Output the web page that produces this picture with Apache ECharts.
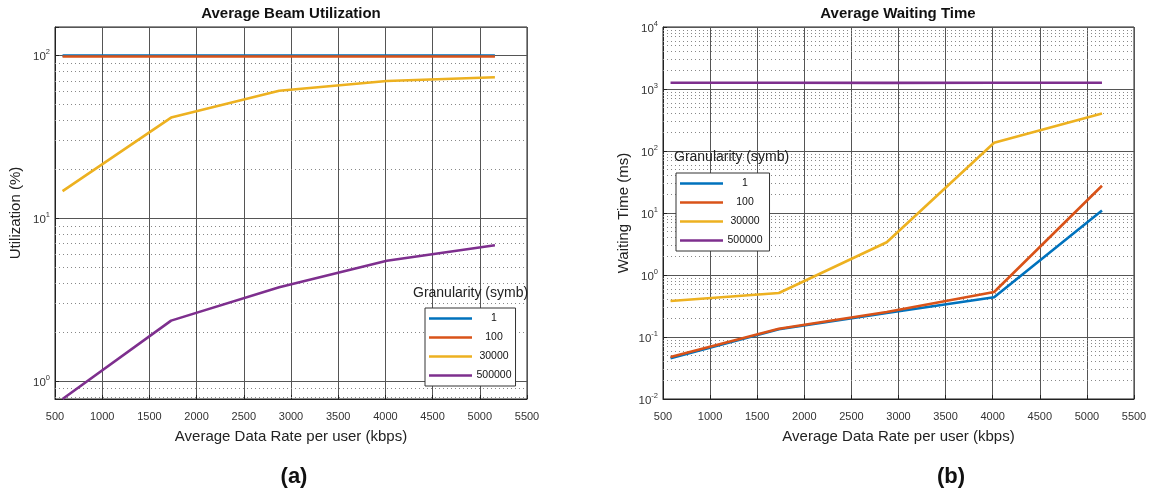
<!DOCTYPE html>
<html>
<head>
<meta charset="utf-8">
<title>Average Beam Utilization / Average Waiting Time</title>
<script src="https://cdn.jsdelivr.net/npm/echarts@6/dist/echarts.min.js"></script>
<style>
  html, body { margin: 0; padding: 0; background: #fff; }
  #chart { width: 1150px; height: 493px; }
</style>
</head>
<body>
<div id="chart"></div>
<script>
// Average data rate per user (kbps), shared by both panels
const dataRates = [580, 1730, 2875, 4015, 5160];

// Granularity settings (symbols), one line per setting
const granularities = ['1', '100', '30000', '500000'];
const lineColors = ['#0072BD', '#D95319', '#EDB120', '#7E2F8E'];

// (a) Average beam utilization (%)
const utilGran1      = [100, 100, 100, 100, 100];
const utilGran100    = [98.8, 98.8, 98.8, 98.8, 98.8];
const utilGran30000  = [14.7, 41.6, 60.9, 69.8, 73.6];
const utilGran500000 = [0.775, 2.35, 3.77, 5.49, 6.83];

// (b) Average waiting time (ms)
const waitGran1      = [0.0453, 0.133, 0.244, 0.437, 11.0];
const waitGran100    = [0.0476, 0.136, 0.253, 0.532, 27.5];
const waitGran30000  = [0.381, 0.513, 3.37, 136, 404];
const waitGran500000 = [1260, 1260, 1255, 1260, 1260];

// Axis ticks
const xTicks = [500, 1000, 1500, 2000, 2500, 3000, 3500, 4000, 4500, 5000, 5500];
const utilRange = [0.775, 150];
const utilDecades = [0, 1, 2];
const waitDecades = [-2, -1, 0, 1, 2, 3, 4];

const FONT = 'Liberation Sans';
const utilSeries = [utilGran1, utilGran100, utilGran30000, utilGran500000];
const waitSeries = [waitGran1, waitGran100, waitGran30000, waitGran500000];

// Dotted minor grid lines at 2..9 x 10^k inside an axis range
function minorLines(lo, hi) {
  const out = [];
  for (let e = Math.floor(Math.log10(lo)); e <= Math.ceil(Math.log10(hi)); e++) {
    for (let m = 2; m <= 9; m++) {
      const v = m * Math.pow(10, e);
      if (v > lo && v < hi) out.push({ yAxis: v });
    }
  }
  return out;
}

function decadeLabel(decades) {
  return function (v) {
    const lg = Math.log10(v);
    const e = Math.round(lg);
    if (Math.abs(lg - e) > 1e-6 || decades.indexOf(e) < 0) return '';
    return '{b|10}{s|' + e + '}';
  };
}

const powerRich = {
  b: { fontSize: 11.5, fontFamily: FONT, color: '#333', lineHeight: 15, verticalAlign: 'bottom' },
  s: { fontSize: 7.5, fontFamily: FONT, color: '#333', lineHeight: 15, verticalAlign: 'top' }
};

function xAxisFor(gridIndex) {
  return {
    type: 'value', gridIndex: gridIndex,
    min: xTicks[0], max: xTicks[xTicks.length - 1], interval: xTicks[1] - xTicks[0],
    name: 'Average Data Rate per user (kbps)',
    nameLocation: 'middle', nameGap: 30,
    nameTextStyle: { fontSize: 15, color: '#222', fontFamily: FONT },
    axisLine: { show: true, lineStyle: { color: '#222', width: 1 } },
    axisTick: { show: true, inside: true, length: 4, lineStyle: { color: '#222' } },
    axisLabel: {
      margin: 12, fontSize: 11, color: '#333', fontFamily: FONT,
      formatter: function (v) { return xTicks.indexOf(v) >= 0 ? String(v) : ''; }
    },
    splitLine: { show: true, lineStyle: { color: '#555', width: 1, type: 'solid' } }
  };
}

function yAxisFor(gridIndex, lo, hi, decades, name) {
  return {
    type: 'log', logBase: 10, gridIndex: gridIndex, min: lo, max: hi,
    name: name, nameLocation: 'middle', nameGap: 32,
    nameTextStyle: { fontSize: 15, color: '#222', fontFamily: FONT },
    axisLine: { show: true, lineStyle: { color: '#222', width: 1 } },
    axisTick: { show: true, inside: true, length: 4, lineStyle: { color: '#222' } },
    axisLabel: { margin: 5, formatter: decadeLabel(decades), rich: powerRich },
    splitLine: { show: true, lineStyle: { color: '#555', width: 1, type: 'solid' } },
    minorTick: { show: false },
    minorSplitLine: { show: false }
  };
}

function seriesFor(values, gridIndex, minor) {
  return values.map(function (arr, i) {
    const s = {
      name: granularities[i],
      type: 'line',
      xAxisIndex: gridIndex, yAxisIndex: gridIndex,
      data: dataRates.map(function (x, j) { return [x, arr[j]]; }),
      showSymbol: false, symbol: 'none',
      lineStyle: { color: lineColors[i], width: 2.6 },
      itemStyle: { color: lineColors[i] },
      z: 3
    };
    if (i === 0) {
      s.markLine = {
        silent: true, z: 1, symbol: ['none', 'none'],
        label: { show: false },
        lineStyle: { color: '#888', width: 1, type: [1, 3] },
        emphasis: { disabled: true },
        data: minor
      };
    }
    return s;
  });
}

function legendFor(left, top, padRight) {
  return {
    data: granularities, orient: 'vertical', left: left, top: top,
    selectedMode: false, icon: 'rect', itemWidth: 43, itemHeight: 2.5, itemGap: 8,
    padding: [5, padRight, 5, 4],
    backgroundColor: '#fff', borderColor: '#333', borderWidth: 1, borderRadius: 0,
    formatter: function (n) { return '{c|' + n + '}'; },
    textStyle: {
      rich: { c: { width: 34, align: 'center', fontSize: 10.5, lineHeight: 12, fontFamily: FONT, color: '#111' } }
    }
  };
}

const option = {
  animation: false,
  textStyle: { fontFamily: FONT },
  grid: [
    { left: 55, top: 27, width: 472, height: 372, show: true, borderColor: '#222', borderWidth: 1, backgroundColor: 'transparent', outerBoundsMode: 'none' },
    { left: 663, top: 27, width: 471, height: 372, show: true, borderColor: '#222', borderWidth: 1, backgroundColor: 'transparent', outerBoundsMode: 'none' }
  ],
  xAxis: [xAxisFor(0), xAxisFor(1)],
  yAxis: [
    yAxisFor(0, utilRange[0], utilRange[1], utilDecades, 'Utilization (%)'),
    yAxisFor(1, Math.pow(10, waitDecades[0]), Math.pow(10, waitDecades[waitDecades.length - 1]), waitDecades, 'Waiting Time (ms)')
  ],
  legend: [legendFor(425, 308, 4), legendFor(676, 173, 7)],
  series: seriesFor(utilSeries, 0, minorLines(utilRange[0], utilRange[1]))
    .concat(seriesFor(waitSeries, 1, minorLines(Math.pow(10, waitDecades[0]), Math.pow(10, waitDecades[waitDecades.length - 1])))),
  graphic: [
    { type: 'text', x: 291, y: 14, style: { text: 'Average Beam Utilization', align: 'center', verticalAlign: 'middle', font: 'bold 15px "Liberation Sans"', fill: '#111' } },
    { type: 'text', x: 898, y: 14, style: { text: 'Average Waiting Time', align: 'center', verticalAlign: 'middle', font: 'bold 15px "Liberation Sans"', fill: '#111' } },
    { type: 'text', x: 413, y: 293, z: 10, style: { text: 'Granularity (symb)', align: 'left', verticalAlign: 'middle', font: '14px "Liberation Sans"', fill: '#222' } },
    { type: 'text', x: 674, y: 157, z: 10, style: { text: 'Granularity (symb)', align: 'left', verticalAlign: 'middle', font: '14px "Liberation Sans"', fill: '#222' } },
    { type: 'text', x: 294, y: 477, style: { text: '(a)', align: 'center', verticalAlign: 'middle', font: 'bold 22px "Liberation Sans"', fill: '#111' } },
    { type: 'text', x: 951, y: 477, style: { text: '(b)', align: 'center', verticalAlign: 'middle', font: 'bold 22px "Liberation Sans"', fill: '#111' } }
  ]
};

const chart = echarts.init(document.getElementById('chart'), null, { renderer: 'canvas' });
chart.setOption(option);
</script>
</body>
</html>
